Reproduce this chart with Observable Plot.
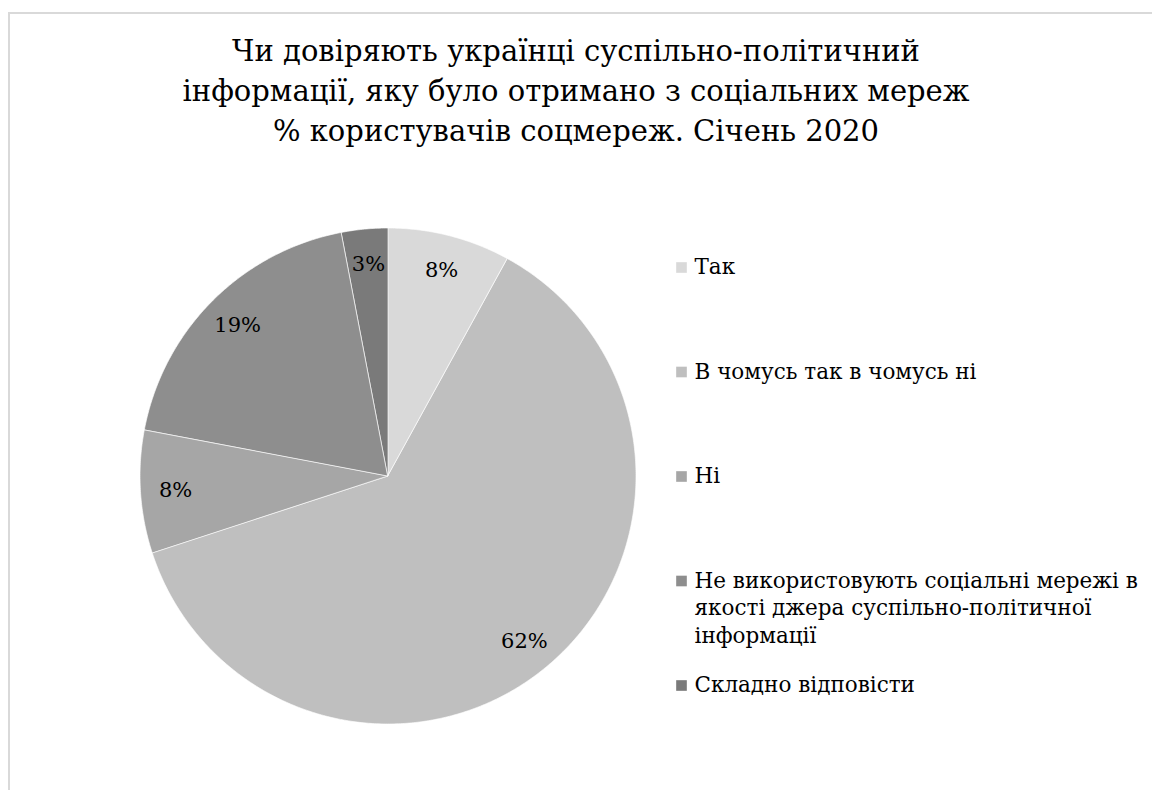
<!DOCTYPE html>
<html>
<head>
<meta charset="utf-8">
<script src="https://cdn.jsdelivr.net/npm/d3@7"></script>
<script src="https://cdn.jsdelivr.net/npm/@observablehq/plot@0.6"></script>
<style>
  html, body { margin: 0; padding: 0; background: #ffffff; }
  body { width: 1152px; height: 790px; position: relative; overflow: hidden; font-family: "DejaVu Serif", serif; }
  #frame { position: absolute; left: 8px; top: 12px; right: 0; bottom: -10px; border-top: 2px solid #d9d9d9; border-left: 2px solid #d9d9d9; }
  #title { position: relative; height: 190px; box-sizing: border-box; padding-top: 31px; text-align: center; font-size: 29px; line-height: 40px; color: #000; }
  #chart { position: relative; }
</style>
</head>
<body>
<div id="frame"></div>
<div id="title">
  <div id="t1">Чи довіряють українці суспільно-політичний</div>
  <div id="t2">інформації, яку було отримано з соціальних мереж</div>
  <div id="t3">% користувачів соцмереж. Січень 2020</div>
</div>
<div id="chart"></div>
<script>
// ---- data ----
const categories = [
  "Так",
  "В чомусь так в чомусь ні",
  "Ні",
  "Не використовують соціальні мережі в\nякості джера суспільно-політичної\nінформації",
  "Складно відповісти"
];
const values = [8, 62, 8, 19, 3];
const labels = ["8%", "62%", "8%", "19%", "3%"];
const colors = ["#d9d9d9", "#bfbfbf", "#a6a6a6", "#8e8e8e", "#7a7a7a"];

// ---- layout ----
const W = 1152, H = 600;
const cx = 388, cy = 286, R = 248;
const total = d3.sum(values);
const FONT = "'DejaVu Serif', serif";

// slices: clockwise from 12 o'clock
const slices = [];
const labelRows = [];
let acc = 0;
categories.forEach((c, i) => {
  const a0 = acc / total * 2 * Math.PI;
  acc += values[i];
  const a1 = acc / total * 2 * Math.PI;
  const n = Math.max(2, Math.ceil((a1 - a0) / (Math.PI / 360)));
  for (let k = 0; k <= n; k++) {
    const a = a0 + (a1 - a0) * k / n;
    slices.push({cat: c, x: Math.sin(a), y: Math.cos(a)});
  }
  const am = (a0 + a1) / 2;
  const rf = 0.86;
  labelRows.push({label: labels[i], x: rf * Math.sin(am), y: rf * Math.cos(am)});
});

// legend rows (positions in scale units derived from pixel layout)
const toX = px => (px - cx) / R;
const toY = py => (cy - py) / R;
const legendTop = 77, legendStep = 104.5;
const legendRows = categories.map((c, i) => ({cat: c, i, y: toY(legendTop + i * legendStep)}));

const plot = Plot.plot({
  width: W,
  height: H,
  margin: 0,
  style: {fontFamily: FONT, background: "transparent"},
  x: {domain: [-1, 1], range: [cx - R, cx + R], axis: null},
  y: {domain: [-1, 1], range: [cy + R, cy - R], axis: null},
  color: {domain: categories, range: colors},
  marks: [
    Plot.area(slices, {
      x1: 0, y1: 0, x2: "x", y2: "y",
      z: "cat", fill: "cat",
      stroke: "white", strokeWidth: 0.8, strokeOpacity: 0.8,
      curve: "linear"
    }),
    Plot.text(labelRows, {
      x: "x", y: "y", text: "label",
      fontSize: 21, fill: "#000"
    }),
    Plot.dot(legendRows, {
      x: toX(681), y: "y", symbol: "square", r: 6, fill: "cat", stroke: null
    }),
    Plot.text(legendRows, {
      x: toX(694), y: "y", text: "cat",
      textAnchor: "start", lineAnchor: "top", dy: -13, lineHeight: 1.28,
      fontSize: 21.5, fill: "#000"
    })
  ]
});
document.getElementById("chart").appendChild(plot);
</script>
</body>
</html>
